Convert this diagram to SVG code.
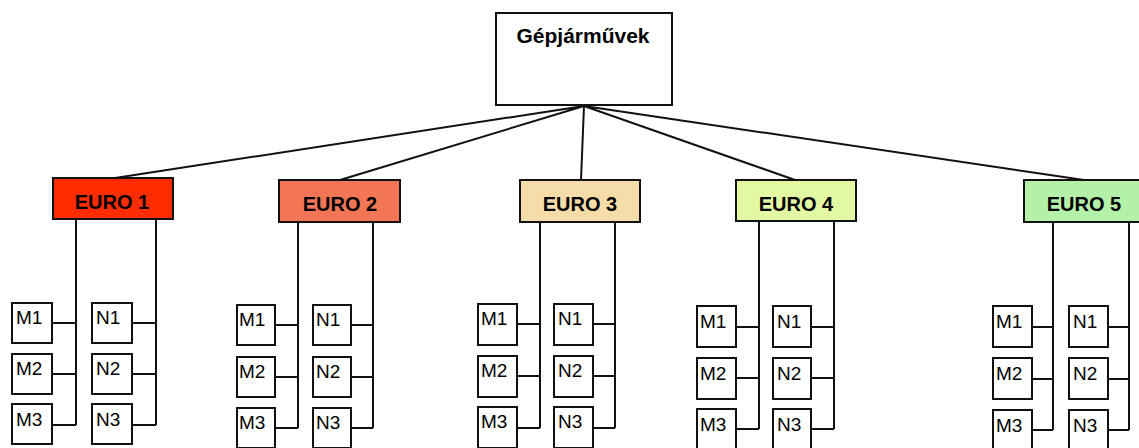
<svg xmlns="http://www.w3.org/2000/svg" width="1139" height="448" viewBox="0 0 1139 448">
<style>
.box{stroke:#111;stroke-width:2}
.w{fill:#fff}
.ln{stroke:#111;stroke-width:2;fill:none}
.t{font-family:"Liberation Sans",Arial,sans-serif;fill:#000}
.b{font-weight:bold;text-anchor:middle}
.e{font-size:20px}
.s{font-size:19px}
</style>
<g id="connectors" class="ln">
<path d="M584,106 L115,178 M584,106 L340,180 M584,106 L581,180 M584,106 L795,180 M584,106 L1084,180"/>
<path d="M76,219 V425 M52,323 H76 M52,374 H76 M52,425 H76"/>
<path d="M156,219 V425 M132,323 H156 M132,374 H156 M132,425 H156"/>
<path d="M298,222 V428 M275,325 H298 M275,377 H298 M275,428 H298"/>
<path d="M373,222 V428 M351,325 H373 M351,377 H373 M351,428 H373"/>
<path d="M540,222 V428 M517,324 H540 M517,376 H540 M517,428 H540"/>
<path d="M615,222 V428 M593,324 H615 M593,376 H615 M593,428 H615"/>
<path d="M759,222 V429 M736,327 H759 M736,378 H759 M736,429 H759"/>
<path d="M834,222 V429 M811,327 H834 M811,378 H834 M811,429 H834"/>
<path d="M1053,222 V430 M1032,327 H1053 M1032,379 H1053 M1032,430 H1053"/>
<path d="M1129,222 V430 M1108,327 H1129 M1108,379 H1129 M1108,430 H1129"/>
</g>
<g id="root">
<rect class="box w" x="496" y="13" width="176" height="92"/>
<text class="t b" x="583" y="43" font-size="21">Gépjárművek</text>
</g>
<g id="euro1">
<rect class="box" fill="#FF2C00" x="53" y="178" width="120" height="41"/>
<text class="t b e" x="112" y="209">EURO 1</text>
</g>
<g id="euro2">
<rect class="box" fill="#F27555" x="279" y="180" width="121" height="42"/>
<text class="t b e" x="340" y="211">EURO 2</text>
</g>
<g id="euro3">
<rect class="box" fill="#F6DCA8" x="520" y="180" width="120" height="42"/>
<text class="t b e" x="580" y="211">EURO 3</text>
</g>
<g id="euro4">
<rect class="box" fill="#E2F8A2" x="736" y="180" width="120" height="41"/>
<text class="t b e" x="796" y="211">EURO 4</text>
</g>
<g id="euro5">
<rect class="box" fill="#B4F0A8" x="1024" y="180" width="120" height="42"/>
<text class="t b e" x="1084" y="211">EURO 5</text>
</g>
<g id="g1">
<rect class="box w" x="12" y="303" width="40" height="40"/><text class="t s" x="16" y="324">M1</text>
<rect class="box w" x="12" y="354" width="40" height="40"/><text class="t s" x="16" y="375">M2</text>
<rect class="box w" x="12" y="404" width="40" height="40"/><text class="t s" x="16" y="426">M3</text>
<rect class="box w" x="92" y="303" width="40" height="40"/><text class="t s" x="96" y="324">N1</text>
<rect class="box w" x="92" y="354" width="40" height="40"/><text class="t s" x="96" y="375">N2</text>
<rect class="box w" x="92" y="404" width="40" height="40"/><text class="t s" x="96" y="426">N3</text>
</g>
<g id="g2">
<rect class="box w" x="237" y="305" width="38" height="40"/><text class="t s" x="239" y="326">M1</text>
<rect class="box w" x="237" y="357" width="38" height="40"/><text class="t s" x="239" y="378">M2</text>
<rect class="box w" x="237" y="408" width="38" height="40"/><text class="t s" x="239" y="429">M3</text>
<rect class="box w" x="313" y="305" width="38" height="40"/><text class="t s" x="316" y="326">N1</text>
<rect class="box w" x="313" y="357" width="38" height="40"/><text class="t s" x="316" y="378">N2</text>
<rect class="box w" x="313" y="408" width="38" height="40"/><text class="t s" x="316" y="429">N3</text>
</g>
<g id="g3">
<rect class="box w" x="478" y="304" width="39" height="41"/><text class="t s" x="481" y="325">M1</text>
<rect class="box w" x="478" y="356" width="39" height="41"/><text class="t s" x="481" y="377">M2</text>
<rect class="box w" x="478" y="407" width="39" height="41"/><text class="t s" x="481" y="428">M3</text>
<rect class="box w" x="554" y="304" width="39" height="41"/><text class="t s" x="558" y="325">N1</text>
<rect class="box w" x="554" y="356" width="39" height="41"/><text class="t s" x="558" y="377">N2</text>
<rect class="box w" x="554" y="407" width="39" height="41"/><text class="t s" x="558" y="428">N3</text>
</g>
<g id="g4">
<rect class="box w" x="697" y="306" width="39" height="41"/><text class="t s" x="700" y="328">M1</text>
<rect class="box w" x="697" y="358" width="39" height="41"/><text class="t s" x="700" y="380">M2</text>
<rect class="box w" x="697" y="409" width="39" height="41"/><text class="t s" x="700" y="431">M3</text>
<rect class="box w" x="773" y="306" width="38" height="41"/><text class="t s" x="777" y="328">N1</text>
<rect class="box w" x="773" y="358" width="38" height="41"/><text class="t s" x="777" y="380">N2</text>
<rect class="box w" x="773" y="409" width="38" height="41"/><text class="t s" x="777" y="431">N3</text>
</g>
<g id="g5">
<rect class="box w" x="993" y="306" width="39" height="41"/><text class="t s" x="996" y="328">M1</text>
<rect class="box w" x="993" y="358" width="39" height="41"/><text class="t s" x="996" y="380">M2</text>
<rect class="box w" x="993" y="410" width="39" height="41"/><text class="t s" x="996" y="432">M3</text>
<rect class="box w" x="1069" y="306" width="39" height="41"/><text class="t s" x="1073" y="328">N1</text>
<rect class="box w" x="1069" y="358" width="39" height="41"/><text class="t s" x="1073" y="380">N2</text>
<rect class="box w" x="1069" y="410" width="39" height="41"/><text class="t s" x="1073" y="432">N3</text>
</g>
</svg>
